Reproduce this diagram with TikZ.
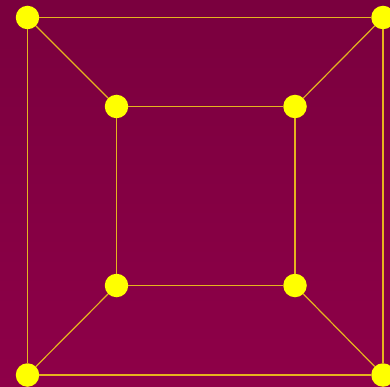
\documentclass[tikz,border=0pt]{standalone}
\usepackage{tikz}
\definecolor{bgtop}{RGB}{122,0,62}
\definecolor{bgbot}{RGB}{142,0,72}
\definecolor{vert}{RGB}{255,255,0}
\definecolor{linkcol}{RGB}{230,180,30}

\begin{document}
\begin{tikzpicture}[x=1pt, y=-1pt,
	vtx/.style={circle, fill=vert, inner sep=0pt, minimum size=23.5pt},
	link/.style={draw=linkcol, line width=1.2pt}]
\useasboundingbox (0,0) rectangle (390,387);
\clip (0,0) rectangle (390,387);
\shade [top color=bgtop, bottom color=bgbot] (0,0) rectangle (390,387);

% outer and inner squares
\foreach \x/\y/\name in {
		27.5/17.5/o1,
		383/17.5/o2,
		383/375/o3,
		27.5/375/o4,
		116.5/106.5/i1,
		295/106.5/i2,
		295/285.5/i3,
		116.5/285.5/i4}
	{
		\node [vtx] (\name) at (\x,\y) {};
	}

\foreach \a/\b in {o1/o2,o2/o3,o3/o4,o4/o1,i1/i2,i2/i3,i3/i4,i4/i1,o1/i1,o2/i2,o3/i3,o4/i4}
	\draw [link] (\a) -- (\b);

\end{tikzpicture}
\end{document}
